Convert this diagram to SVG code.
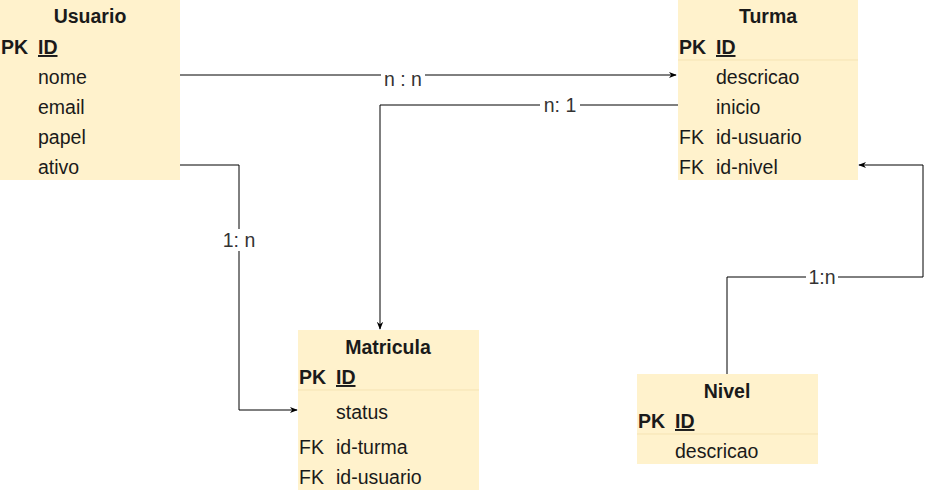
<svg xmlns="http://www.w3.org/2000/svg" width="934" height="491" viewBox="0 0 934 491">
<defs>
<style>
.box{fill:#fff2cc;stroke:none}
.sep{stroke:#f5e3b3;stroke-width:1}
text{font-family:"Liberation Sans",Arial,sans-serif;font-size:19.5px;fill:#1a1a1a}
.t{font-weight:bold;text-anchor:middle}
.b{font-weight:bold}
.u{font-weight:bold;text-decoration:underline}
.c{fill:none;stroke:#000;stroke-width:1}
.lbl{text-anchor:middle;fill:#333}
.lb{fill:#fff}
</style>
<marker id="arr" viewBox="0 0 10 10" refX="9" refY="5" markerWidth="8" markerHeight="8" orient="auto" markerUnits="userSpaceOnUse">
<path d="M0,1 L10,5 L0,9 L3,5 Z" fill="#000"/>
</marker>
</defs>

<g id="connectors">
<path class="c" d="M180,75 L676,75" marker-end="url(#arr)"/>
<rect class="lb" x="381" y="66" width="44" height="22"/>
<text class="lbl" x="403" y="86">n : n</text>

<path class="c" d="M678,105 L380,105 L380,329" marker-end="url(#arr)"/>
<rect class="lb" x="540" y="96" width="40" height="22"/>
<text class="lbl" x="560" y="112">n: 1</text>

<path class="c" d="M180,165 L239,165 L239,410 L297,410" marker-end="url(#arr)"/>
<rect class="lb" x="218" y="229" width="42" height="22"/>
<text class="lbl" x="239" y="247">1: n</text>

<path class="c" d="M727,374 L727,277 L923,277 L923,165 L859,165" marker-end="url(#arr)"/>
<rect class="lb" x="806" y="268" width="32" height="20"/>
<text class="lbl" x="822" y="284">1:n</text>
</g>

<g id="usuario">
<rect class="box" x="0" y="0" width="180" height="180"/>
<text class="t" x="90" y="23">Usuario</text>
<text class="b" x="1" y="54">PK</text>
<text class="u" x="38" y="54">ID</text>
<text x="38" y="84">nome</text>
<text x="38" y="114">email</text>
<text x="38" y="144">papel</text>
<text x="38" y="174">ativo</text>
</g>

<g id="turma">
<rect class="box" x="678" y="0" width="180" height="180"/>
<line class="sep" x1="678" y1="60" x2="858" y2="60"/>
<text class="t" x="768" y="23">Turma</text>
<text class="b" x="679" y="54">PK</text>
<text class="u" x="716" y="54">ID</text>
<text x="716" y="84">descricao</text>
<text x="716" y="114">inicio</text>
<text x="679" y="144">FK</text>
<text x="716" y="144">id-usuario</text>
<text x="679" y="174">FK</text>
<text x="716" y="174">id-nivel</text>
</g>

<g id="matricula">
<rect class="box" x="298" y="330" width="181" height="160"/>
<line class="sep" x1="298" y1="390" x2="479" y2="390"/>
<text class="t" x="388" y="354">Matricula</text>
<text class="b" x="299" y="384">PK</text>
<text class="u" x="336" y="384">ID</text>
<text x="336" y="419">status</text>
<text x="299" y="454">FK</text>
<text x="336" y="454">id-turma</text>
<text x="299" y="484">FK</text>
<text x="336" y="484">id-usuario</text>
</g>

<g id="nivel">
<rect class="box" x="637" y="374" width="181" height="90"/>
<line class="sep" x1="637" y1="434" x2="818" y2="434"/>
<text class="t" x="727" y="398">Nivel</text>
<text class="b" x="638" y="428">PK</text>
<text class="u" x="675" y="428">ID</text>
<text x="675" y="458">descricao</text>
</g>
</svg>
